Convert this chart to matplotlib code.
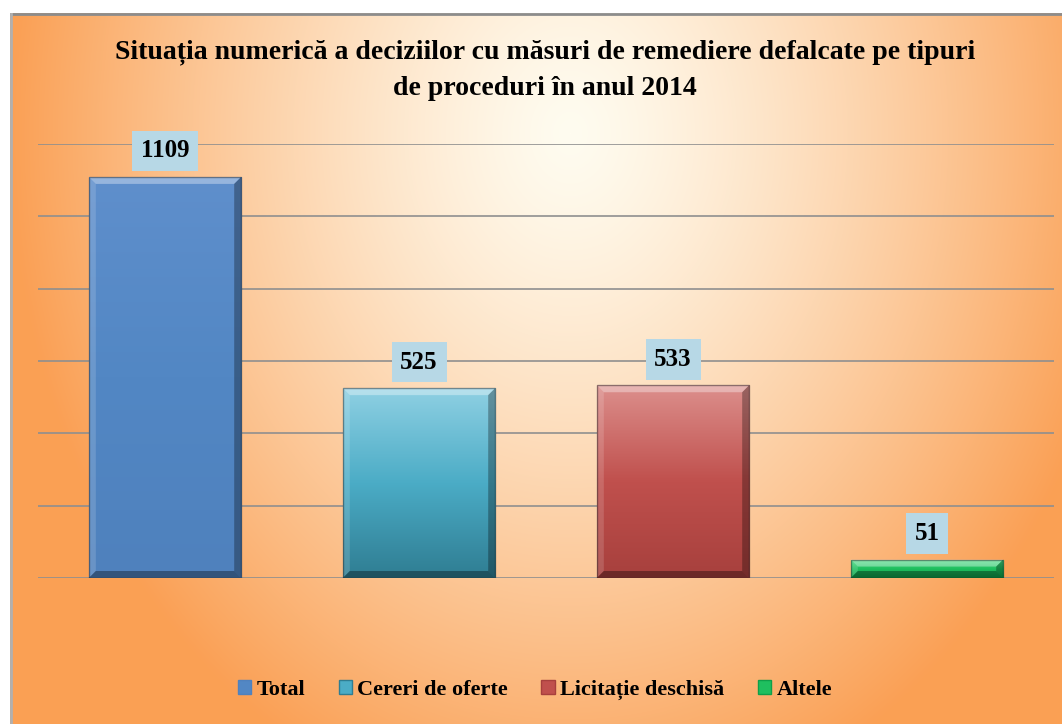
import numpy as np
import matplotlib
matplotlib.use("Agg")
import matplotlib.pyplot as plt
from matplotlib.patches import Rectangle, Patch, Polygon
import matplotlib.colors as mcolors

categories = ["Total", "Cereri de oferte", "Licitație deschisă", "Altele"]
values = [1109, 525, 533, 51]
title = "Situația numerică a deciziilor cu măsuri de remediere defalcate pe tipuri\nde proceduri în anul 2014"

bar_top = ["#5f8fcc", "#8fd0e3", "#dc8f8c", "#4fe08a"]
bar_bot = ["#4f81bd", "#2f7d92", "#a7403d", "#0f9f4a"]
bar_mid = ["#5287c4", "#4bacc6", "#c0504d", "#1fbf5f"]

plt.rcParams['font.family'] = ['Liberation Serif', 'DejaVu Serif']

W, H = 1062, 724
fig = plt.figure(figsize=(W / 100, H / 100), dpi=100)
fig.patch.set_facecolor("white")

# background chart area
bx0, by0 = 10, 13
bg = fig.add_axes([bx0 / W, 0, (W - bx0) / W, (H - by0) / H])
bg.set_axis_off()
hh, ww = H - by0, W - bx0
yy, xx = np.mgrid[0:hh, 0:ww]
cx, cy = 560, 120
t = np.sqrt(((xx - cx) / 560.0) ** 2 + ((yy - cy) / 700.0) ** 2)
t = np.clip(t, 0, 1) ** 1.3
light = np.array([255, 252, 240]) / 255
orange = np.array([250, 160, 85]) / 255
img = light[None, None, :] + (orange - light)[None, None, :] * t[..., None]
bg.imshow(img, extent=[0, ww, hh, 0], aspect='auto', interpolation='bilinear')
bg.set_xlim(0, ww)
bg.set_ylim(hh, 0)
bg.plot([0, ww], [1, 1], color="#8c8c8c", lw=2)
bg.plot([1, 1], [0, hh], color="#b0b0b0", lw=2)

ax_w_px, ax_h_px = 1016, 434
ax = fig.add_axes([38 / W, 146 / H, ax_w_px / W, ax_h_px / H])
ax.patch.set_alpha(0)
x = np.arange(len(categories))
ymax = 1200
bars = ax.bar(x, values, width=0.6, color="none", edgecolor="none", zorder=3)
ax.set_xlim(-0.5, len(categories) - 0.5)
ax.set_ylim(0, ymax)
ax.set_yticks(np.arange(0, ymax + 1, 200))
ax.yaxis.grid(True, color="#8f8f8f", lw=1.2, zorder=0)
ax.set_axisbelow(True)
for s in ax.spines.values():
    s.set_visible(False)
ax.tick_params(left=False, bottom=False, labelleft=False, labelbottom=False)

px_x = len(categories) / ax_w_px
px_y = ymax / ax_h_px
bev = 7
for i, b in enumerate(bars):
    x0, y0 = b.get_x(), b.get_y()
    w, h = b.get_width(), b.get_height()
    cmap = mcolors.LinearSegmentedColormap.from_list(
        "g", [bar_bot[i], bar_mid[i], bar_top[i]])
    grad = np.linspace(0, 1, 256)[:, None]
    im = ax.imshow(grad, extent=[x0, x0 + w, y0, y0 + h], origin="lower",
                   cmap=cmap, aspect="auto", zorder=3)
    clip = Rectangle((x0, y0), w, h, transform=ax.transData)
    im.set_clip_path(clip)
    bp = min(bev, (h / px_y) / 2.2)
    dx, dy = bp * px_x, bp * px_y
    x1, y1 = x0 + w, y0 + h
    polys = [
        ([(x0, y1), (x1, y1), (x1 - dx, y1 - dy), (x0 + dx, y1 - dy)], (1, 1, 1, 0.35)),
        ([(x0, y0), (x0, y1), (x0 + dx, y1 - dy), (x0 + dx, y0 + dy)], (1, 1, 1, 0.15)),
        ([(x1, y0), (x1, y1), (x1 - dx, y1 - dy), (x1 - dx, y0 + dy)], (0, 0, 0, 0.3)),
        ([(x0, y0), (x1, y0), (x1 - dx, y0 + dy), (x0 + dx, y0 + dy)], (0, 0, 0, 0.35)),
    ]
    for pts, c in polys:
        ax.add_patch(Polygon(pts, closed=True, facecolor=c, edgecolor="none", zorder=4))
    ax.add_patch(Rectangle((x0, y0), w, h, fill=False,
                           edgecolor=mcolors.to_rgba("#202020", 0.45), lw=1.0, zorder=5))
    ax.text(x0 + w / 2, y1 + 40, f"{values[i]}", ha="center", va="bottom",
            fontsize=18, fontweight="bold", color="black", zorder=5,
            bbox=dict(boxstyle="square,pad=0.35", facecolor="#b7d8e6",
                      edgecolor="none"))

fig.text(545 / W, 1 - 70 / H, title, ha="center", va="center", fontsize=20,
         fontweight="bold", linespacing=1.6)

handles = [Patch(facecolor=bar_mid[i], edgecolor=bar_bot[i]) for i in range(4)]
fig.legend(handles, categories, loc="center", bbox_to_anchor=(535 / W, 1 - 690 / H),
           ncol=4, frameon=False, handlelength=0.6, handleheight=0.6,
           handletextpad=0.25, columnspacing=1.5,
           prop=dict(family=['Liberation Serif'], weight='bold', size=16))

fig.savefig("out.png", dpi=100)
